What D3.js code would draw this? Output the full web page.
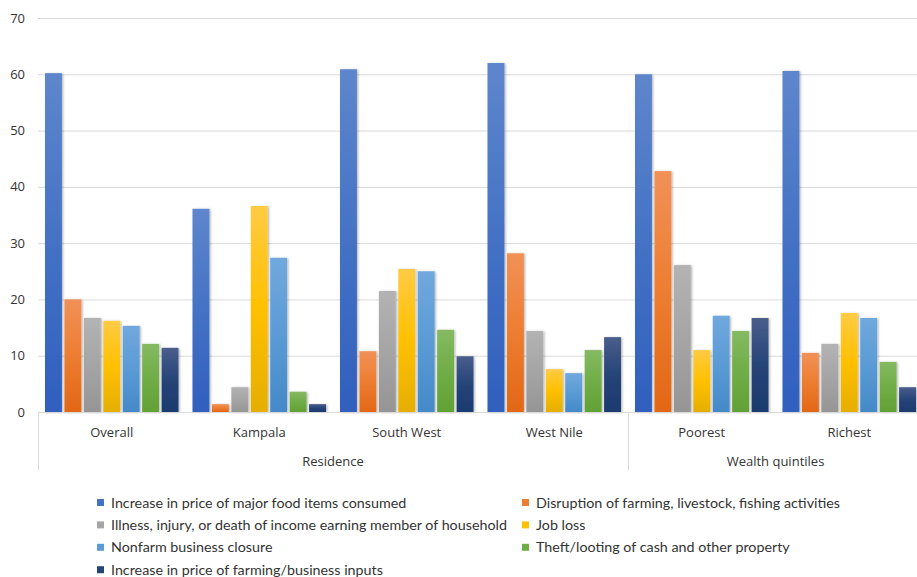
<!DOCTYPE html>
<html><head><meta charset="utf-8">
<script src="https://cdn.jsdelivr.net/npm/d3@7"></script>
<style>body{margin:0;background:#fff}svg{display:block}</style>
</head><body>
<svg id="chart" width="917" height="577"></svg>
<script>
const categories = ["Overall","Kampala","South West","West Nile","Poorest","Richest"];
const groups = [{name:"Residence", from:0, to:3},{name:"Wealth quintiles", from:4, to:5}];
const seriesNames = [
  "Increase in price of major food items consumed",
  "Disruption of farming, livestock, fishing activities",
  "Illness, injury, or death of income earning member of household",
  "Job loss",
  "Nonfarm business closure",
  "Theft/looting of cash and other property",
  "Increase in price of farming/business inputs"
];
const foodPrice   = [60.2, 36.1, 60.9, 62.0, 60.0, 60.6];
const disruption  = [20.0, 1.4, 10.8, 28.2, 42.8, 10.5];
const illness     = [16.7, 4.4, 21.5, 14.4, 26.1, 12.1];
const jobLoss     = [16.2, 36.6, 25.4, 7.6, 11.0, 17.6];
const nonfarm     = [15.3, 27.4, 25.0, 6.9, 17.1, 16.7];
const theft       = [12.1, 3.6, 14.6, 11.0, 14.4, 8.9];
const inputPrice  = [11.4, 1.4, 9.9, 13.3, 16.7, 4.4];
const seriesValues = [foodPrice, disruption, illness, jobLoss, nonfarm, theft, inputPrice];
const yTicks = [0,10,20,30,40,50,60,70];
const colors = ["#4472C4","#ED7D31","#A5A5A5","#FFC000","#5B9BD5","#70AD47","#264478"];
const topColors = ["#5E86CC","#F19157","#B3B3B3","#FFCB43","#70A8DD","#85BA62","#4A5E8C"];
const botColors = ["#305FBE","#E26716","#959595","#E5AE00","#4489C8","#62A135","#1C3A6E"];

const svg = d3.select("#chart");
const plotLeft = 38, plotRight = 923, plotTop = 18, plotBase = 412;
const y = d3.scaleLinear().domain([0,70]).range([plotBase, plotTop]);
const x0 = d3.scaleBand().domain(categories).range([plotLeft, plotRight]).padding(0);
const x1 = d3.scaleBand().domain(d3.range(7)).range([7, x0.bandwidth()-7]).paddingInner(0.13);

const defs = svg.append("defs");
colors.forEach((c,i)=>{
  const g = defs.append("linearGradient").attr("id","g"+i).attr("x1",0).attr("y1",0).attr("x2",0).attr("y2",1);
  g.append("stop").attr("offset","0%").attr("stop-color",topColors[i]);
  g.append("stop").attr("offset","50%").attr("stop-color",colors[i]);
  g.append("stop").attr("offset","100%").attr("stop-color",botColors[i]);
});
const f = defs.append("filter").attr("id","sh").attr("x","-20%").attr("y","-5%").attr("width","150%").attr("height","110%");
f.append("feDropShadow").attr("dx",1.2).attr("dy",0.5).attr("stdDeviation",0.8).attr("flood-color","#000").attr("flood-opacity",0.3);

// gridlines
svg.append("g").selectAll("line").data(yTicks.filter(t=>t>0)).join("line")
  .attr("x1",plotLeft).attr("x2",917).attr("y1",d=>y(d)+0.5).attr("y2",d=>y(d)+0.5)
  .attr("stroke","#d9d9d9").attr("stroke-width",1);

// y labels
svg.append("g").selectAll("text").data(yTicks).join("text")
  .attr("x",25).attr("y",d=>y(d)).attr("dy","0.35em").attr("text-anchor","end")
  .attr("font-family","Open Sans").attr("font-size",13).attr("fill","#333").text(d=>d);

// bars
const bars = svg.append("g");
categories.forEach((cat,ci)=>{
  seriesValues.forEach((vals,si)=>{
    bars.append("rect")
      .attr("x", x0(cat)+x1(si)).attr("width", x1.bandwidth())
      .attr("y", y(vals[ci])).attr("height", plotBase - y(vals[ci]))
      .attr("fill","url(#g"+si+")").attr("filter","url(#sh)");
  });
});

// axis line
svg.append("line").attr("x1",plotLeft).attr("x2",917).attr("y1",plotBase+0.5).attr("y2",plotBase+0.5)
  .attr("stroke","#d9d9d9").attr("stroke-width",1);
// separators
[plotLeft, x0(categories[4]), plotRight].forEach(xx=>{
  svg.append("line").attr("x1",xx+0.5).attr("x2",xx+0.5).attr("y1",plotBase).attr("y2",470)
    .attr("stroke","#d9d9d9").attr("stroke-width",1);
});

// category labels
svg.append("g").selectAll("text").data(categories).join("text")
  .attr("x",d=>x0(d)+x0.bandwidth()/2).attr("y",432).attr("dy","0.35em").attr("text-anchor","middle")
  .attr("font-family","Open Sans").attr("font-size",13).attr("fill","#333").text(d=>d);
svg.append("g").selectAll("text").data(groups).join("text")
  .attr("x",d=>(x0(categories[d.from]) + x0(categories[d.to]) + x0.bandwidth())/2)
  .attr("y",461).attr("dy","0.35em").attr("text-anchor","middle")
  .attr("font-family","Open Sans").attr("font-size",13).attr("fill","#333").text(d=>d.name);

// legend
const lg = svg.append("g");
seriesNames.forEach((n,i)=>{
  const col = i%2, row = Math.floor(i/2);
  const lx = col===0 ? 97 : 522, ly = 502.5 + row*22.4;
  lg.append("rect").attr("x",lx).attr("y",ly-3.5).attr("width",7).attr("height",7).attr("fill",colors[i]);
  lg.append("text").attr("x",lx+14).attr("y",ly).attr("dy","0.35em")
    .attr("font-family","Lato").attr("font-size",14.3).attr("fill","#333").text(n);
});
</script>
</body></html>
